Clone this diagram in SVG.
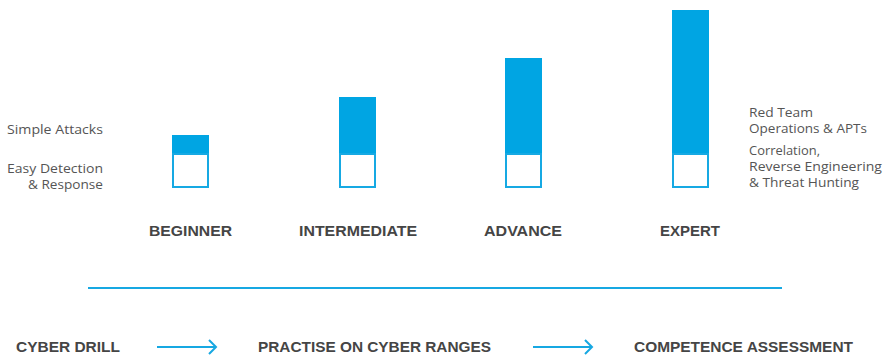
<svg xmlns="http://www.w3.org/2000/svg" width="884" height="356" viewBox="0 0 884 356">
<style>
.fill{fill:#00a5e3}
.box{fill:#fff;stroke:#16a9e3;stroke-width:2}
.lvl{font-family:"Liberation Sans",Arial,sans-serif;font-weight:bold;font-size:14.5px;fill:#454545;text-anchor:middle}
.step{font-family:"Liberation Sans",Arial,sans-serif;font-weight:bold;font-size:15px;fill:#454545}
.note{font-family:"Open Sans","Liberation Sans",sans-serif;font-size:12.5px;fill:#555}
.conn{stroke:#17a8e2;stroke-width:2;fill:none}
</style>
<rect width="884" height="356" fill="#fff"/>
<g id="beginner">
<rect class="fill" x="172" y="135" width="37" height="20"/>
<rect class="box" x="173" y="154" width="35" height="33"/>
<text class="lvl" x="190.5" y="236" textLength="83" lengthAdjust="spacingAndGlyphs">BEGINNER</text>
</g>
<g id="intermediate">
<rect class="fill" x="339" y="97" width="37" height="58"/>
<rect class="box" x="340" y="154" width="35" height="33"/>
<text class="lvl" x="358" y="236" textLength="118" lengthAdjust="spacingAndGlyphs">INTERMEDIATE</text>
</g>
<g id="advance">
<rect class="fill" x="505" y="58" width="37" height="97"/>
<rect class="box" x="506" y="154" width="35" height="33"/>
<text class="lvl" x="523" y="236" textLength="78" lengthAdjust="spacingAndGlyphs">ADVANCE</text>
</g>
<g id="expert">
<rect class="fill" x="672" y="10" width="37" height="145"/>
<rect class="box" x="673" y="154" width="35" height="33"/>
<text class="lvl" x="690" y="236" textLength="60" lengthAdjust="spacingAndGlyphs">EXPERT</text>
</g>
<g id="left-notes">
<text class="note" x="7" y="134" textLength="96" lengthAdjust="spacingAndGlyphs">Simple Attacks</text>
<text class="note" x="7" y="173" textLength="96" lengthAdjust="spacingAndGlyphs">Easy Detection</text>
<text class="note" x="28" y="189" textLength="75" lengthAdjust="spacingAndGlyphs">&amp; Response</text>
</g>
<g id="right-notes">
<text class="note" x="749" y="117" textLength="64" lengthAdjust="spacingAndGlyphs">Red Team</text>
<text class="note" x="749" y="133" textLength="118" lengthAdjust="spacingAndGlyphs">Operations &amp; APTs</text>
<text class="note" x="749" y="155" textLength="71" lengthAdjust="spacingAndGlyphs">Correlation,</text>
<text class="note" x="749" y="171" textLength="133" lengthAdjust="spacingAndGlyphs">Reverse Engineering</text>
<text class="note" x="749" y="187" textLength="110" lengthAdjust="spacingAndGlyphs">&amp; Threat Hunting</text>
</g>
<line id="divider" x1="88" y1="288" x2="782" y2="288" stroke="#17a8e2" stroke-width="2"/>
<g id="cyber-drill"><text class="step" x="16" y="352" textLength="104" lengthAdjust="spacingAndGlyphs">CYBER DRILL</text></g>
<g id="practise"><text class="step" x="258" y="352" textLength="233" lengthAdjust="spacingAndGlyphs">PRACTISE ON CYBER RANGES</text></g>
<g id="assessment"><text class="step" x="634" y="352" textLength="219" lengthAdjust="spacingAndGlyphs">COMPETENCE ASSESSMENT</text></g>
<g id="connectors">
<path class="conn" d="M157 347 H216 M209 340 L216 347 L209 354"/>
<path class="conn" d="M533 347 H592 M585 340 L592 347 L585 354"/>
</g>
</svg>
